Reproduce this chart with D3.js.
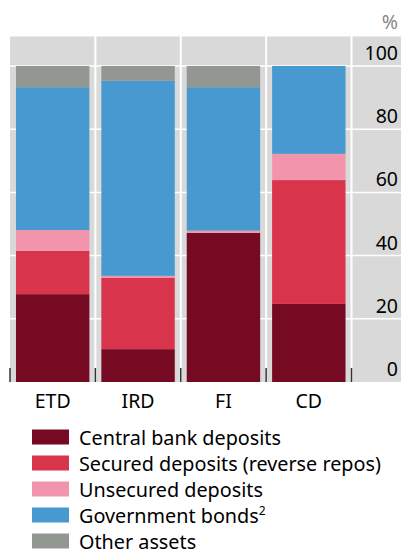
<!DOCTYPE html>
<html><head><meta charset="utf-8">
<script src="https://cdn.jsdelivr.net/npm/d3@7"></script>
<style>body{margin:0;background:#fff}svg{display:block}text{font-family:"Noto Sans",sans-serif}</style>
</head><body><svg id="c" width="401" height="554"></svg>
<script>
const categories = ["ETD", "IRD", "FI", "CD"];
const seriesNames = ["Central bank deposits", "Secured deposits (reverse repos)", "Unsecured deposits", "Government bonds", "Other assets"];
const centralBank = [27.8, 10.4, 47.2, 24.7];
const secured = [13.7, 22.6, 0, 39.2];
const unsecured = [6.6, 0.6, 0.7, 8.3];
const govBonds = [45.2, 61.7, 45.4, 27.8];
const otherAssets = [6.7, 4.7, 6.7, 0];
const yTicks = [0, 20, 40, 60, 80, 100];
const colors = ["#760a23", "#d8354c", "#f295ac", "#4899d0", "#929891"];

(function () {
const svg = d3.select("#c");
const keys = ["cb", "sec", "unsec", "gov", "oth"];
const rows = categories.map((c, i) => ({cat: c, cb: centralBank[i], sec: secured[i], unsec: unsecured[i], gov: govBonds[i], oth: otherAssets[i]}));
const stack = d3.stack().keys(keys)(rows);

const pLeft = 10, pRight = 351.5, axisRight = 401, pTop = 36, pBottom = 382;
const x = d3.scaleBand().domain(categories).range([pLeft, pRight]).paddingInner(0.14).paddingOuter(0.07);
const y = d3.scaleLinear().domain([0, 100]).range([pBottom, 66]);

svg.append("rect").attr("x", pLeft).attr("y", pTop).attr("width", axisRight - pLeft).attr("height", pBottom - pTop).attr("fill", "#d9d9d9");

svg.selectAll(".hg").data(yTicks.filter(d => d > 0)).join("line")
  .attr("x1", pLeft).attr("x2", axisRight).attr("y1", d => y(d)).attr("y2", d => y(d))
  .attr("stroke", "#fff").attr("stroke-width", 1.5);
svg.append("line").attr("x1", pLeft).attr("x2", axisRight).attr("y1", pTop).attr("y2", pTop).attr("stroke", "#fff").attr("stroke-width", 1);

const step = x.step();
const bounds = d3.range(categories.length + 1).map(i => pLeft + i * step);
svg.selectAll(".vg").data(bounds.slice(1)).join("line")
  .attr("x1", d => d).attr("x2", d => d).attr("y1", pTop).attr("y2", pBottom)
  .attr("stroke", "#fff").attr("stroke-width", 2);

svg.selectAll(".layer").data(stack).join("g").attr("fill", (d, i) => colors[i])
  .selectAll("rect").data(d => d).join("rect")
  .attr("x", d => x(d.data.cat)).attr("width", x.bandwidth())
  .attr("y", d => y(d[1])).attr("height", d => y(d[0]) - y(d[1]));

svg.selectAll(".bt").data(bounds).join("line")
  .attr("x1", d => d).attr("x2", d => d).attr("y1", pBottom - 14).attr("y2", pBottom)
  .attr("stroke", "#333").attr("stroke-width", 1.5);

svg.selectAll(".yl").data(yTicks).join("text")
  .attr("x", 398).attr("y", d => y(d) - 6).attr("text-anchor", "end")
  .attr("font-size", 19.5).attr("fill", "#000").text(d => d);
svg.append("text").attr("x", 398).attr("y", 29).attr("text-anchor", "end").attr("font-size", 19.5).attr("fill", "#888").text("%");

svg.selectAll(".xl").data(categories).join("text")
  .attr("x", d => x(d) + x.bandwidth() / 2).attr("y", 408).attr("text-anchor", "middle")
  .attr("font-size", 19.5).attr("fill", "#000").text(d => d);

const lg = svg.selectAll(".lg").data(seriesNames).join("g").attr("transform", (d, i) => `translate(32,${429.5 + i * 26})`);
lg.append("rect").attr("width", 37).attr("height", 15).attr("fill", (d, i) => colors[i]);
const lt = lg.append("text").attr("x", 47).attr("y", 15).attr("font-size", 19.8).attr("fill", "#000");
lt.append("tspan").text(d => d);
lt.filter((d, i) => i === 3).append("tspan").attr("dy", -8).attr("font-size", 12).text("2");
})();
</script></body></html>
